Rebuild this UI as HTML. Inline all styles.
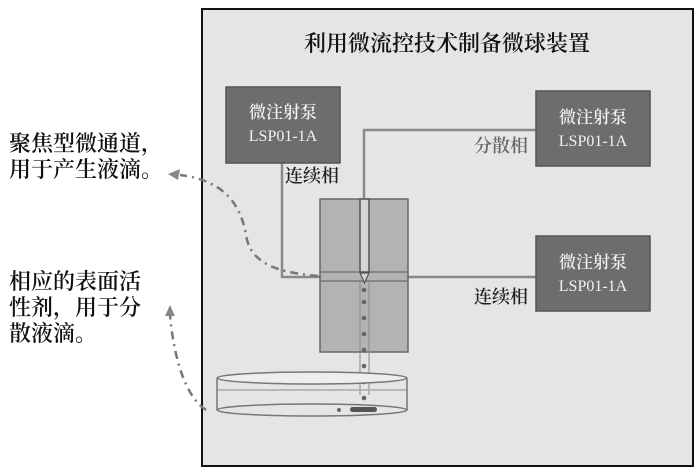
<!DOCTYPE html>
<html><head><meta charset="utf-8"><style>
body{margin:0;background:#fff;width:700px;height:476px;overflow:hidden}
svg{display:block}
text{font-family:"Liberation Serif","Noto Serif CJK SC","Noto Sans CJK SC",serif}
</style></head><body>
<svg width="700" height="476" viewBox="0 0 700 476">
<rect x="202" y="9" width="491" height="457" fill="#e5e5e5" stroke="#111" stroke-width="2"/>
<text x="447" y="51" font-size="22" text-anchor="middle" fill="#111" font-weight="600">利用微流控技术制备微球装置</text>
<g stroke="#8a8a8a" stroke-width="2.5" fill="none">
<polyline points="282,163 282,277 320,277"/>
<polyline points="364,198 364,130 536,130"/>
<line x1="408" y1="277" x2="536" y2="277"/>
</g>
<g fill="#6d6d6d" stroke="#555" stroke-width="1.5">
<rect x="226" y="87" width="114" height="76"/>
<rect x="536" y="91" width="114" height="75"/>
<rect x="536" y="236" width="114" height="75"/>
</g>
<g fill="#f2f2f2" font-size="17" text-anchor="middle">
<text x="283" y="118" font-weight="600">微注射泵</text><text x="283" y="141" font-size="16">LSP01-1A</text>
<text x="593" y="123" font-weight="600">微注射泵</text><text x="593" y="146" font-size="16">LSP01-1A</text>
<text x="593" y="268" font-weight="600">微注射泵</text><text x="593" y="291" font-size="16">LSP01-1A</text>
</g>
<g font-size="18" fill="#222" font-weight="600">
<text x="285" y="182">连续相</text>
<text x="474" y="152" fill="#666">分散相</text>
<text x="474" y="303">连续相</text>
</g>
<rect x="320" y="199" width="88" height="153" fill="#b3b3b3" stroke="#666" stroke-width="1.5"/>
<line x1="320" y1="272" x2="408" y2="272" stroke="#777" stroke-width="1.5"/>
<line x1="320" y1="281" x2="408" y2="281" stroke="#777" stroke-width="1.5"/>
<rect x="360" y="199" width="9" height="73" fill="#d5d5d5" stroke="#555" stroke-width="1.5"/>
<polygon points="360,273 369,273 364.5,283" fill="#d5d5d5" stroke="#555" stroke-width="1.2"/>
<line x1="360" y1="281" x2="360" y2="395" stroke="#888" stroke-width="1"/>
<line x1="369" y1="281" x2="369" y2="395" stroke="#888" stroke-width="1"/>
<g fill="#666">
<circle cx="364" cy="290" r="2.3"/><circle cx="364" cy="302" r="2.3"/><circle cx="364" cy="318" r="2.3"/>
<circle cx="364" cy="334" r="2.3"/><circle cx="364" cy="350" r="2.3"/><circle cx="364" cy="366" r="2.3"/>
<circle cx="364" cy="382" r="2.3"/><circle cx="364" cy="398" r="2.3"/>
<circle cx="339" cy="410" r="2"/>
</g>
<g stroke="#777" stroke-width="1.5" fill="none">
<ellipse cx="312" cy="378" rx="95" ry="6" fill="#eeeeee"/>
<line x1="217" y1="378" x2="217" y2="410"/>
<line x1="407" y1="378" x2="407" y2="410"/>
<ellipse cx="312" cy="410" rx="95" ry="6"/>
<line x1="218" y1="390" x2="406" y2="390" stroke="#aaa"/>
</g>
<rect x="350" y="407" width="27" height="5" rx="2.5" fill="#555"/>
<g stroke="#777" stroke-width="2.5" fill="none" stroke-dasharray="8,5,2,5">
<path d="M318,276 C270,272 250,260 246,235 C240,200 220,180 180,175"/>
<path d="M206,410 C190,400 175,370 170,315"/>
</g>
<polygon points="168,174 180,169 178,180" fill="#888"/>
<polygon points="170,305 165,316 175,316" fill="#888"/>
<g font-size="22" fill="#111" font-weight="600">
<text x="9" y="151">聚焦型微通道，</text>
<text x="9" y="177">用于产生液滴。</text>
<text x="9" y="289">相应的表面活</text>
<text x="9" y="315">性剂，用于分</text>
<text x="9" y="341">散液滴。</text>
</g>
</svg>
</body></html>
